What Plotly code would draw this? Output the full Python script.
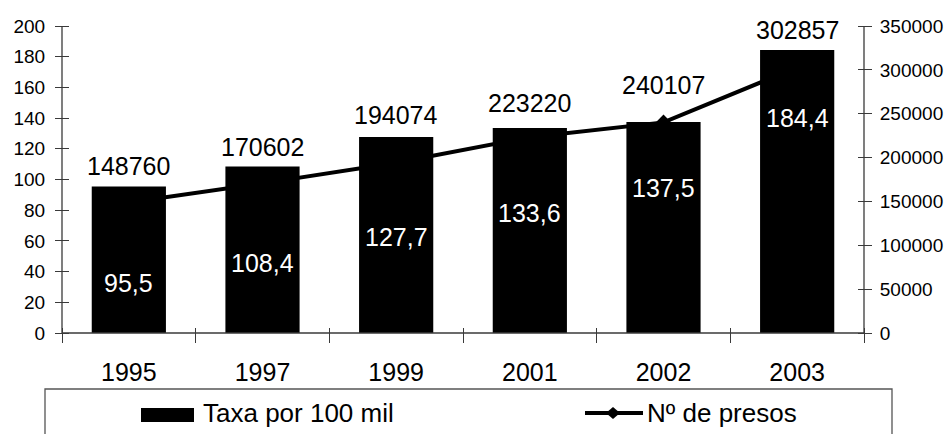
import plotly.graph_objects as go

# ---- data ----
years = ["1995", "1997", "1999", "2001", "2002", "2003"]
taxa = [95.5, 108.4, 127.7, 133.6, 137.5, 184.4]          # Taxa por 100 mil (left axis)
presos = [148760, 170602, 194074, 223220, 240107, 302857]  # Nº de presos (right axis)
taxa_text = ["95,5", "108,4", "127,7", "133,6", "137,5", "184,4"]

# ---- layout constants (label placement only) ----
bar_label_y = [32.6, 45.6, 62.5, 78.2, 94.5, 140.0]   # left-axis units
line_label_shift = [37, 36, 48, 34, 37, 37]            # pixels above the line point

FONT = "Liberation Sans, Arial, sans-serif"
W, H = 952, 434
L, R, T, B = 62, 88, 26, 101
PW, PH = W - L - R, H - T - B


def px_x(px):
    return (px - L) / PW


def px_y(py):
    return (H - B - py) / PH


fig = go.Figure()

# line (base subplot -> drawn behind the bars)
fig.add_trace(go.Scatter(
    x=years, y=presos, xaxis="x", yaxis="y", mode="lines+markers",
    line=dict(color="black", width=4),
    marker=dict(symbol="diamond", size=12, color="black"),
    name="Nº de presos", showlegend=False, cliponaxis=False,
))

# bars (overlay subplot -> drawn on top)
fig.add_trace(go.Bar(
    x=years, y=taxa, xaxis="x", yaxis="y2",
    marker=dict(color="black", line=dict(width=0)),
    name="Taxa por 100 mil", showlegend=False,
))

annotations = []
for i, (v, s) in enumerate(zip(presos, line_label_shift)):
    annotations.append(dict(
        x=i, y=v, xref="x", yref="y", text=str(v), showarrow=False,
        yshift=s, font=dict(family=FONT, size=25, color="black"),
    ))
for i, (t, ly) in enumerate(zip(taxa_text, bar_label_y)):
    annotations.append(dict(
        x=i, y=ly, xref="x", yref="y2", text=t, showarrow=False,
        font=dict(family=FONT, size=25, color="white"),
    ))

# manual legend text
annotations.append(dict(
    x=px_x(201), y=px_y(413), xref="paper", yref="paper", xanchor="left",
    yanchor="middle", text="Taxa por 100 mil", showarrow=False,
    font=dict(family=FONT, size=26, color="black"),
))
annotations.append(dict(
    x=px_x(645), y=px_y(413), xref="paper", yref="paper", xanchor="left",
    yanchor="middle", text="Nº de presos", showarrow=False,
    font=dict(family=FONT, size=26, color="black"),
))

axis_col = "#3a3a3a"

shapes = [
    # axis lines
    dict(type="line", xref="paper", yref="paper", x0=0, x1=0, y0=0, y1=1,
         line=dict(color=axis_col, width=1.3)),
    dict(type="line", xref="paper", yref="paper", x0=1, x1=1, y0=0, y1=1,
         line=dict(color=axis_col, width=1.3)),
    dict(type="line", xref="paper", yref="paper", x0=0, x1=1, y0=0, y1=0,
         line=dict(color=axis_col, width=1.3)),
    # legend frame (runs off the bottom of the picture)
    dict(type="rect", xref="paper", yref="paper",
         x0=px_x(45), x1=px_x(892), y0=px_y(389), y1=px_y(450),
         line=dict(color="#555555", width=1.3), fillcolor="rgba(0,0,0,0)"),
    # legend glyph: bar
    dict(type="rect", xref="paper", yref="paper",
         x0=px_x(141), x1=px_x(194), y0=px_y(408), y1=px_y(422),
         line=dict(width=0), fillcolor="black"),
    # legend glyph: line
    dict(type="line", xref="paper", yref="paper",
         x0=px_x(585), x1=px_x(643), y0=px_y(413), y1=px_y(413),
         line=dict(color="black", width=4)),
    dict(type="path", xref="paper", yref="paper", xsizemode="pixel", ysizemode="pixel",
         xanchor=px_x(613), yanchor=px_y(413),
         path="M -7 0 L 0 6 L 7 0 L 0 -6 Z", fillcolor="black", line=dict(width=0)),
]

tickfont_y = dict(family=FONT, size=19, color="black")

fig.update_layout(
    width=W, height=H,
    margin=dict(l=L, r=R, t=T, b=B, autoexpand=False),
    paper_bgcolor="white", plot_bgcolor="white",
    bargap=0.445,
    showlegend=False,
    xaxis=dict(
        type="category", range=[-0.5, 5.5],
        anchor="free", position=6 / PH,
        showline=False,
        ticks="outside", ticklen=15, tickcolor=axis_col, tickwidth=1.3,
        tickson="boundaries", showgrid=False, zeroline=False,
        tickfont=dict(family=FONT, size=25, color="black"),
        ticklabelstandoff=28,
    ),
    yaxis=dict(
        range=[0, 350000], side="right", anchor="free", position=1 - 7 / PW,
        showline=False,
        ticks="outside", ticklen=14, tickcolor=axis_col, tickwidth=1.3,
        tick0=0, dtick=50000, tickformat="d", showgrid=False, zeroline=False,
        tickfont=tickfont_y, ticklabelstandoff=4,
    ),
    yaxis2=dict(
        range=[0, 200], side="left", overlaying="y", anchor="free", position=7 / PW,
        showline=False,
        ticks="outside", ticklen=14, tickcolor=axis_col, tickwidth=1.3,
        tick0=0, dtick=20, showgrid=False, zeroline=False,
        tickfont=tickfont_y, ticklabelstandoff=6,
    ),
    annotations=annotations,
    shapes=shapes,
)

fig.write_html("out.html", config={"displayModeBar": False},
               post_script="document.body.style.margin='0px';")
